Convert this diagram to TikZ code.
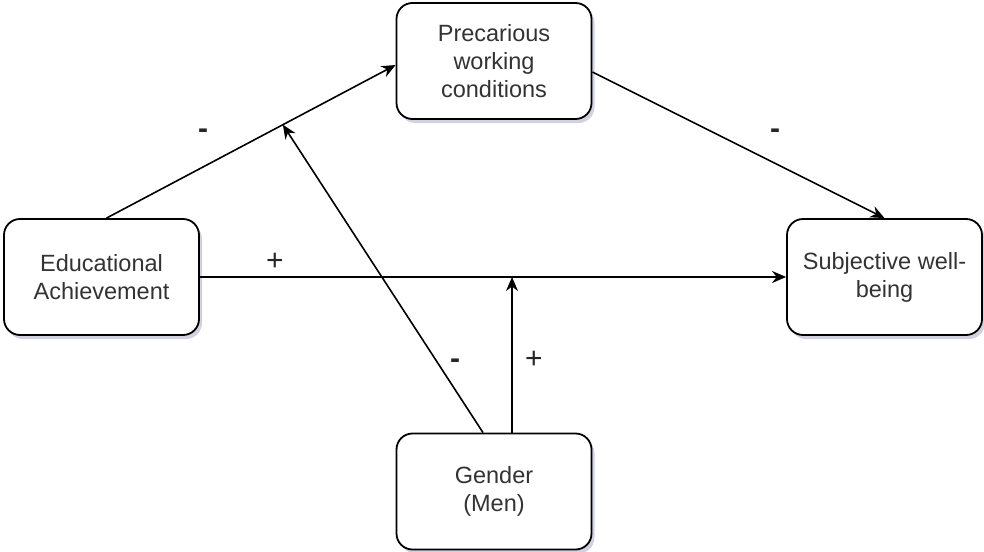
\documentclass[tikz,border=0pt]{standalone}
\usepackage{fontspec}
\setmainfont{Liberation Sans}
\usepackage{tikz}
\usetikzlibrary{arrows.meta,positioning,calc,shadows}

\begin{document}
\begin{tikzpicture}[
  x=1pt, y=-1pt,
  box/.style={rectangle, rounded corners=16pt, draw=black, line width=1.8pt, fill=white,
              minimum width=195pt, minimum height=116pt, align=center,
              font=\fontsize{23.5}{28}\selectfont, text=black!80,
              drop shadow={shadow xshift=3pt, shadow yshift=-4pt, fill=blue!30!black, opacity=0.18}},
  arr/.style={-{Stealth[length=14pt, width=12pt]}, line width=1.6pt},
  sign/.style={font=\fontsize{30}{32}\selectfont, text=black!85}
]
\useasboundingbox (0,0) rectangle (984,551);
\node[box] (edu)  at (101.5,277) {Educational\\Achievement};
\node[box] (prec) at (494,61)    {Precarious\\working\\conditions};
\node[box] (swb)  at (884.5,277) {Subjective well-\\being};
\node[box] (gen)  at (494,491.5) {Gender\\(Men)};

\draw[arr] ($(edu.north)+(5,0)$) -- coordinate[pos=0.61] (modprec) ($(prec.west)+(0,4)$);
\draw[arr] (edu.east) -- (swb.west);
\draw[arr] ($(prec.east)+(0,11)$) -- (swb.north);
\draw[arr] ($(gen.north)+(-11,0)$) -- (modprec);
\coordinate (genup) at ($(gen.north)+(18,0)$);
\draw[arr] (genup) -- (genup |- edu.east);

% signs of the effects
\node[sign] (s1) at (203,134) {\textbf{-}};
\node[sign] (s2) at (275,262) {+};
\node[sign] (s3) at (775,134) {\textbf{-}};
\node[sign] (s4) at (455,364) {\textbf{-}};
\node[sign] (s5) at (534,360) {+};
\end{tikzpicture}
\end{document}
